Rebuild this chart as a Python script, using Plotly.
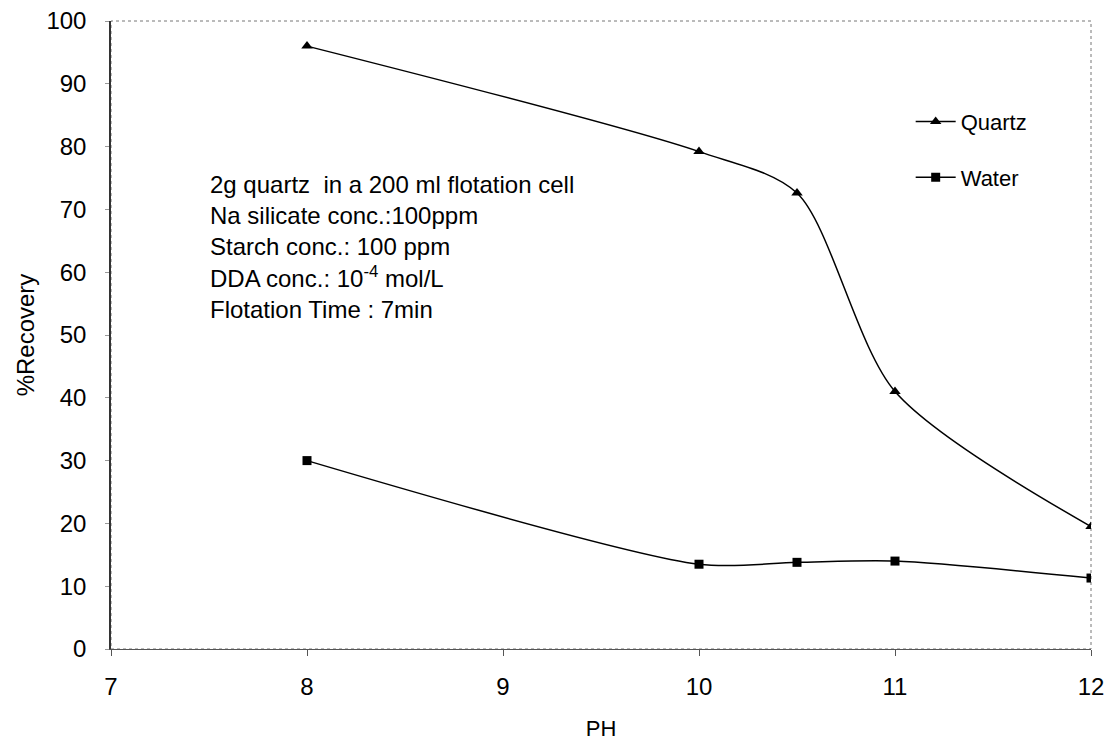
import plotly.graph_objects as go

ph = [8, 10, 10.5, 11, 12]
quartz = [96.0, 79.2, 72.6, 41.0, 19.5]
water = [30.0, 13.5, 13.8, 14.0, 11.3]
x_ticks = [7, 8, 9, 10, 11, 12]
y_ticks = [0, 10, 20, 30, 40, 50, 60, 70, 80, 90, 100]
note_lines = ["2g quartz  in a 200 ml flotation cell",
              "Na silicate conc.:100ppm",
              "Starch conc.: 100 ppm",
              "DDA conc.: 10<sup>-4</sup> mol/L",
              "Flotation Time : 7min"]

FONT = "Liberation Sans, Arial, sans-serif"

fig = go.Figure()
fig.add_trace(go.Scatter(x=ph, y=quartz, name="Quartz", mode="lines+markers",
                         legendgroup="q",
                         line=dict(color="black", width=1.5, shape="spline", smoothing=0.8),
                         marker=dict(symbol="triangle-up", size=10, color="black")))
fig.add_trace(go.Scatter(x=ph, y=water, name="Water", mode="lines+markers",
                         legendgroup="w",
                         line=dict(color="black", width=1.5, shape="spline", smoothing=0.8),
                         marker=dict(symbol="square", size=9, color="black")))

fig.add_annotation(x=(208 - 111) / 980, y=0.765, xref="paper", yref="paper",
                   text="<br>".join(note_lines), showarrow=False,
                   xanchor="left", yanchor="top", align="left",
                   font=dict(family=FONT, size=24, color="black"))

fig.update_layout(
    width=1118, height=741,
    margin=dict(l=111, r=27, t=21, b=92),
    paper_bgcolor="white", plot_bgcolor="white",
    font=dict(family=FONT, size=24, color="black"),
    showlegend=True,
    legend=dict(x=0.816, y=0.873, xanchor="left", yanchor="top",
                font=dict(family=FONT, size=22), bgcolor="rgba(0,0,0,0)",
                traceorder="grouped", tracegroupgap=24, itemwidth=40),
    xaxis=dict(range=[7, 12], tickvals=x_ticks, showgrid=False, zeroline=False,
               showline=True, linecolor="#555", linewidth=1, mirror=False,
               ticks="outside", ticklen=6, tickcolor="#555", automargin=False,
               ticklabelstandoff=10, tickfont=dict(size=24),
               title=dict(text="PH", font=dict(size=22), standoff=21)),
    yaxis=dict(range=[0, 100], tickvals=y_ticks, showgrid=False, zeroline=False,
               showline=True, linecolor="#333", linewidth=1.5, automargin=False,
               ticks="outside", ticklen=4, tickcolor="#999",
               ticklabelstandoff=14, tickfont=dict(size=24),
               title=dict(text="%Recovery", font=dict(size=24), standoff=5)),
)
# dotted plot border on top/right
fig.add_shape(type="rect", xref="paper", yref="paper", x0=0, y0=0, x1=1, y1=1,
              line=dict(color="#777", width=1, dash="dot"), layer="below")

fig.write_html("out.html")
